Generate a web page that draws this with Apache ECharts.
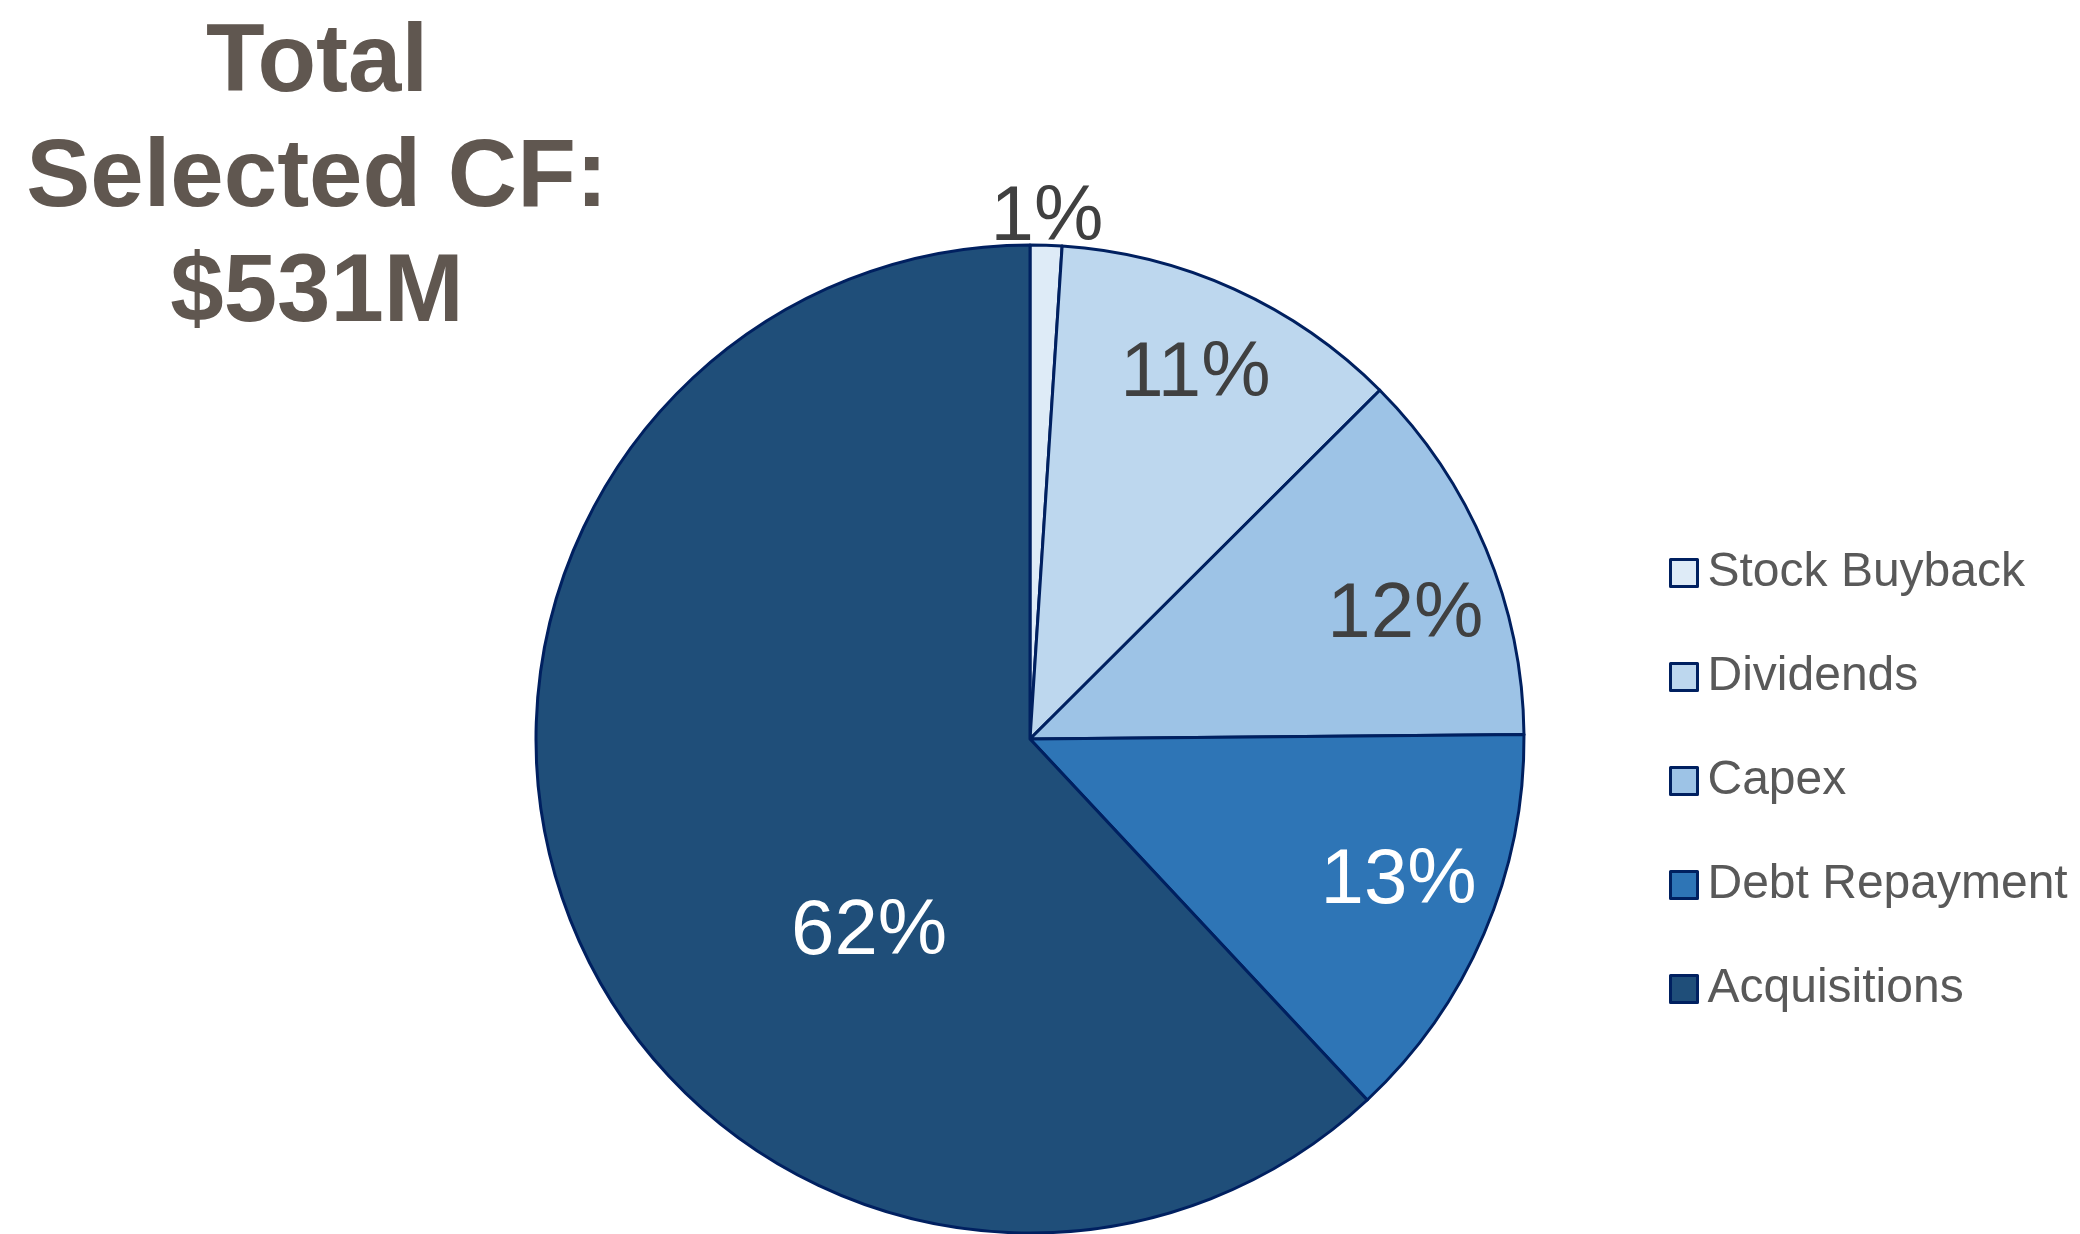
<!DOCTYPE html>
<html>
<head>
<meta charset="utf-8">
<script src="https://cdn.jsdelivr.net/npm/echarts@6/dist/echarts.min.js"></script>
<style>
  html, body { margin: 0; padding: 0; background: #ffffff; }
  #chart { width: 2080px; height: 1234px; }
</style>
</head>
<body>
<div id="chart"></div>
<script>
// values in $M, total 531
const categories = ['Stock Buyback', 'Dividends', 'Capex', 'Debt Repayment', 'Acquisitions'];
const values = [5.5, 61, 65.5, 70, 329];
const sliceColors = ['#DEEBF7', '#BDD7EE', '#9DC3E6', '#2E75B6', '#1F4E79'];
const labelColors = ['#404040', '#404040', '#404040', '#FFFFFF', '#FFFFFF'];
const titleLines = ['Total', 'Selected CF:', '$531M'];

// pie geometry
const cx = 1030;
const cy = 739;
const R = 494;
// where each % label sits: fraction of radius, and turn (deg) from slice middle
const labelRadius = [1.055, 0.81, 0.80, 0.80, 0.51];
const labelTurn = [0, 0, 4.5, -2.1, -28.8];

const total = values.reduce((a, b) => a + b, 0);

function midAngle(i) {
  let before = 0;
  for (let k = 0; k < i; k++) before += values[k];
  return (before + values[i] / 2) / total * 2 * Math.PI;
}

const myChart = echarts.init(document.getElementById('chart'));

const option = {
  animation: false,
  backgroundColor: '#ffffff',
  graphic: [
    {
      type: 'text',
      x: 317,
      y: 7,
      style: {
        text: titleLines.join('\n'),
        fontFamily: '"Liberation Sans", Arial, sans-serif',
        fontWeight: 'bold',
        fontSize: 96,
        lineHeight: 115,
        fill: '#605750',
        align: 'center',
        verticalAlign: 'top',
      },
    },
  ],
  legend: {
    orient: 'vertical',
    left: 1664,
    top: 544,
    itemWidth: 27,
    itemHeight: 27,
    itemGap: 56,
    icon: 'rect',
    selectedMode: false,
    itemStyle: {
      borderColor: '#002060',
      borderWidth: 3,
    },
    textStyle: {
      fontFamily: '"Liberation Sans", Arial, sans-serif',
      fontSize: 48,
      lineHeight: 48,
      color: '#595959',
      padding: [0, 0, 0, 5],
    },
    data: categories,
  },
  series: [
    {
      type: 'pie',
      center: [cx, cy],
      radius: [0, R],
      startAngle: 90,
      clockwise: true,
      avoidLabelOverlap: false,
      silent: true,
      emphasis: { disabled: true },
      itemStyle: {
        borderColor: '#002060',
        borderWidth: 3,
      },
      label: {
        show: true,
        position: 'inside',
        fontFamily: '"Liberation Sans", Arial, sans-serif',
        fontSize: 78,
        formatter: (p) => Math.round(p.percent) + '%',
      },
      labelLine: { show: false },
      labelLayout: (p) => {
        const i = p.dataIndex;
        const a = midAngle(i) + labelTurn[i] * Math.PI / 180;
        const r = R * labelRadius[i];
        return {
          x: cx + r * Math.sin(a),
          y: cy - r * Math.cos(a),
          align: 'center',
          verticalAlign: 'middle',
        };
      },
      data: categories.map((name, i) => ({
        name: name,
        value: values[i],
        itemStyle: { color: sliceColors[i] },
        label: { color: labelColors[i] },
      })),
    },
  ],
};

myChart.setOption(option);
</script>
</body>
</html>
